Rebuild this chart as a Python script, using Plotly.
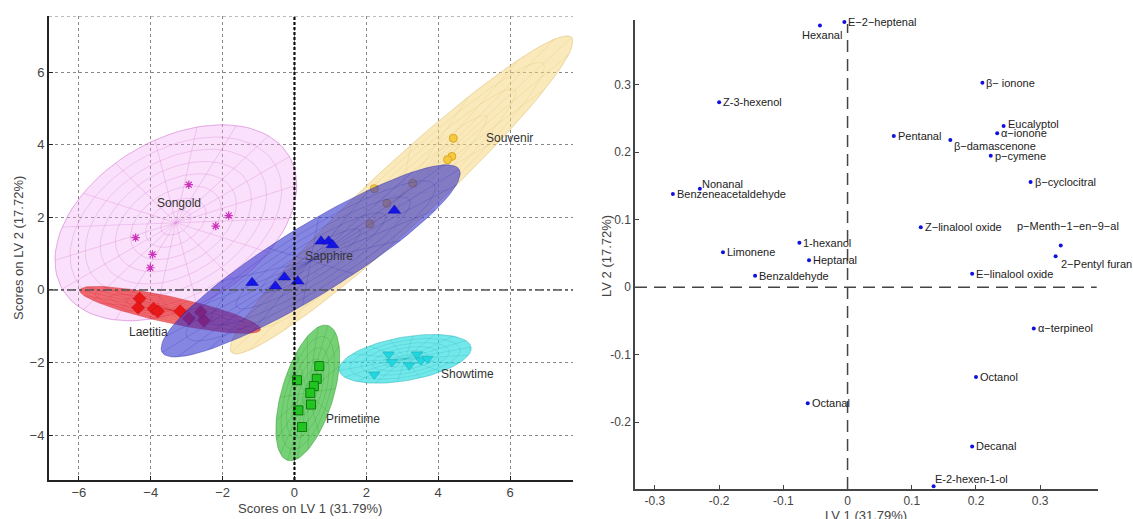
import numpy as np
import plotly.graph_objects as go

# ---------------- Scores (left panel) ----------------
groups = ["Songold", "Souvenir", "Laetitia", "Sapphire", "Primetime", "Showtime"]

songold_x = [-2.94, -1.83, -2.19, -4.42, -3.95, -4.01]
songold_y = [2.90, 2.05, 1.76, 1.44, 0.98, 0.61]
souvenir_x = [4.42, 4.38, 4.26, 2.22, 3.29, 2.57, 2.10]
souvenir_y = [4.18, 3.68, 3.59, 2.79, 2.94, 2.39, 1.82]
laetitia_x = [-4.31, -4.35, -3.92, -3.80, -3.18, -2.94, -2.61, -2.52]
laetitia_y = [-0.24, -0.49, -0.52, -0.59, -0.59, -0.79, -0.61, -0.84]
sapphire_x = [2.78, 0.74, 0.95, 1.06, -1.18, -0.53, -0.28, 0.09]
sapphire_y = [2.19, 1.34, 1.34, 1.24, 0.20, 0.10, 0.35, 0.24]
primetime_x = [0.69, 0.07, 0.62, 0.54, 0.44, 0.46, 0.11, 0.21]
primetime_y = [-2.10, -2.49, -2.45, -2.65, -2.84, -3.16, -3.32, -3.78]
showtime_x = [2.62, 2.71, 2.22, 3.19, 3.41, 3.52, 3.70]
showtime_y = [-1.78, -1.99, -2.33, -2.08, -1.78, -1.94, -1.90]

# confidence ellipses: centre x, centre y, semi-major, semi-minor, angle (deg)
ell_cx = [-3.30, 2.98, -3.46, 0.45, 0.37, 3.08]
ell_cy = [1.85, 2.62, -0.55, 0.80, -2.84, -1.90]
ell_a = [3.65, 6.42, 2.57, 4.84, 1.94, 1.86]
ell_b = [2.30, 0.85, 0.36, 0.95, 0.72, 0.60]
ell_ang = [30.0, 42.5, -12.2, 31.4, 73.2, 9.9]

label_x = [-3.2, 5.97, -4.07, 0.97, 1.62, 4.81]
label_y = [2.4, 4.2, -1.16, 0.93, -3.55, -2.33]

# ---------------- Loadings (right panel) ----------------
var_names = ["Hexanal", "E\u22122\u2212heptenal", "Z-3-hexenol", "Nonanal", "Benzeneacetaldehyde",
             "Limonene", "1-hexanol", "Heptanal", "Benzaldehyde", "Octanal",
             "\u03b2\u2212 ionone", "Eucalyptol", "\u03b1\u2212ionone", "Pentanal", "\u03b2\u2212damascenone",
             "p\u2212cymene", "\u03b2\u2212cyclocitral", "Z\u2212linalool oxide", "p\u2212Menth\u22121\u2212en\u22129\u2212al",
             "2\u2212Pentyl furan", "E\u2212linalool oxide", "\u03b1\u2212terpineol", "Octanol", "Decanal",
             "E-2-hexen-1-ol"]
lv1 = [-0.043, -0.005, -0.200, -0.230, -0.272,
       -0.194, -0.075, -0.060, -0.144, -0.062,
       0.210, 0.243, 0.233, 0.072, 0.160,
       0.223, 0.285, 0.114, 0.332,
       0.324, 0.194, 0.290, 0.200, 0.194,
       0.134]
lv2 = [0.388, 0.393, 0.274, 0.146, 0.138,
       0.052, 0.066, 0.040, 0.017, -0.172,
       0.303, 0.239, 0.228, 0.224, 0.218,
       0.195, 0.156, 0.089, 0.062,
       0.046, 0.020, -0.061, -0.133, -0.236,
       -0.295]
# label placement: (xanchor, yanchor, xshift, yshift)
lab_pos = {0: ("center", "top", 2, -2), 3: ("left", "bottom", 0, -3),
           14: ("left", "top", 2, 2), 18: ("center", "middle", 7, 19),
           19: ("left", "middle", 3, -8), 24: ("left", "middle", -1, 7),
           11: ("left", "middle", 2, 2)}

style = {
    "Songold": dict(fill="rgba(240,160,240,0.33)", mesh="rgba(215,130,215,0.55)",
                    marker=dict(symbol="asterisk-open", size=7, color="#cc33bb",
                                line=dict(color="#cc33bb", width=1.2))),
    "Souvenir": dict(fill="rgba(245,212,120,0.50)", mesh="rgba(225,190,110,0.45)",
                     marker=dict(symbol="circle", size=8, color="#f6c940",
                                 line=dict(color="#d9a820", width=1))),
    "Laetitia": dict(fill="rgba(235,40,40,0.65)", mesh="rgba(200,40,40,0.35)",
                     marker=dict(symbol="diamond", size=10, color="#e81818",
                                 line=dict(color="#c01010", width=0.5))),
    "Sapphire": dict(fill="rgba(45,45,205,0.58)", mesh="rgba(30,30,160,0.30)",
                     marker=dict(symbol="triangle-up", size=11, color="#1414e6",
                                 line=dict(color="#0a0ab0", width=0.5))),
    "Primetime": dict(fill="rgba(60,190,60,0.70)", mesh="rgba(30,140,30,0.35)",
                      marker=dict(symbol="square", size=9, color="#22c422",
                                  line=dict(color="#0e7d0e", width=1))),
    "Showtime": dict(fill="rgba(40,220,225,0.65)", mesh="rgba(20,170,175,0.35)",
                     marker=dict(symbol="triangle-down", size=10, color="#22d6e0",
                                 line=dict(color="#12a8b0", width=0.5))),
}
pts = {"Songold": (songold_x, songold_y), "Souvenir": (souvenir_x, souvenir_y),
       "Laetitia": (laetitia_x, laetitia_y), "Sapphire": (sapphire_x, sapphire_y),
       "Primetime": (primetime_x, primetime_y), "Showtime": (showtime_x, showtime_y)}


def ellipse_xy(cx, cy, a, b, ang, s=1.0, n=90):
    t = np.linspace(0, 2 * np.pi, n)
    th = np.radians(ang)
    x = cx + s * (a * np.cos(t) * np.cos(th) - b * np.sin(t) * np.sin(th))
    y = cy + s * (a * np.cos(t) * np.sin(th) + b * np.sin(t) * np.cos(th))
    return x, y


def mesh_xy(cx, cy, a, b, ang, rings=7, spokes=18):
    xs, ys = [], []
    for k in range(1, rings + 1):
        x, y = ellipse_xy(cx, cy, a, b, ang, s=k / rings)
        xs += list(x) + [None]
        ys += list(y) + [None]
    th = np.radians(ang)
    for t in np.linspace(0, 2 * np.pi, spokes, endpoint=False):
        ex = cx + a * np.cos(t) * np.cos(th) - b * np.sin(t) * np.sin(th)
        ey = cy + a * np.cos(t) * np.sin(th) + b * np.sin(t) * np.cos(th)
        xs += [cx, ex, None]
        ys += [cy, ey, None]
    return xs, ys


fig = go.Figure()
for i, g in enumerate(groups):
    st = style[g]
    ex, ey = ellipse_xy(ell_cx[i], ell_cy[i], ell_a[i], ell_b[i], ell_ang[i])
    fig.add_trace(go.Scatter(x=ex, y=ey, fill="toself", fillcolor=st["fill"], mode="lines",
                             line=dict(color=st["mesh"], width=0.8), hoverinfo="skip",
                             showlegend=False, xaxis="x", yaxis="y"))
    mx, my = mesh_xy(ell_cx[i], ell_cy[i], ell_a[i], ell_b[i], ell_ang[i],
                     rings=8 if g == "Songold" else 6, spokes=18)
    fig.add_trace(go.Scatter(x=mx, y=my, mode="lines", line=dict(color=st["mesh"], width=0.6),
                             hoverinfo="skip", showlegend=False, xaxis="x", yaxis="y"))
    px, py = pts[g]
    fig.add_trace(go.Scatter(x=px, y=py, mode="markers", marker=st["marker"], name=g,
                             showlegend=False, xaxis="x", yaxis="y"))

# group labels
for i, g in enumerate(groups):
    fig.add_annotation(x=label_x[i], y=label_y[i], xref="x", yref="y", text=g, showarrow=False,
                       xanchor="center", yanchor="middle",
                       font=dict(family="Liberation Sans, Arial", size=12, color="#333"))

# left panel reference lines
X1 = [-6.83, 7.75]
Y1 = [-5.24, 7.55]
fig.add_shape(type="line", xref="x", yref="y", x0=X1[0], x1=X1[1], y0=0, y1=0,
              line=dict(color="#555", width=1.5, dash="dashdot"))
fig.add_shape(type="line", xref="x", yref="y", x0=0, x1=0, y0=Y1[0], y1=Y1[1],
              line=dict(color="#111", width=2.2, dash="3px,2px"))
fig.add_shape(type="line", xref="x", yref="y", x0=X1[0], x1=X1[1], y0=Y1[1], y1=Y1[1],
              line=dict(color="#777", width=1, dash="dot"))

# loadings
fig.add_trace(go.Scatter(x=lv1, y=lv2, mode="markers", marker=dict(color="#1010e0", size=4),
                         showlegend=False, xaxis="x2", yaxis="y2", text=var_names))
for i, name in enumerate(var_names):
    xa, ya, xs, ys = lab_pos.get(i, ("left", "middle", 2, 0))
    fig.add_annotation(x=lv1[i], y=lv2[i], xref="x2", yref="y2", text=name, showarrow=False,
                       xanchor=xa, yanchor=ya, xshift=xs, yshift=ys,
                       font=dict(family="Liberation Sans, Arial", size=11, color="#222"))

X2 = [-0.331, 0.390]
Y2 = [-0.299, 0.396]
fig.add_shape(type="line", xref="x2", yref="y2", x0=X2[0], x1=0.388, y0=0, y1=0,
              line=dict(color="#444", width=1.5, dash="12px,7px"))
fig.add_shape(type="line", xref="x2", yref="y2", x0=0, x1=0, y0=Y2[0], y1=0.39,
              line=dict(color="#444", width=1.5, dash="12px,7px"))

tickfont = dict(family="Liberation Sans, Arial", size=13, color="#444")
fig.update_layout(
    width=1133, height=519, margin=dict(l=0, r=0, t=0, b=0),
    paper_bgcolor="white", plot_bgcolor="white",
    xaxis=dict(domain=[49 / 1133, 573 / 1133], range=X1, tickvals=[-6, -4, -2, 0, 2, 4, 6],
               showgrid=True, gridcolor="#888", griddash="dot", gridwidth=1, zeroline=False,
               showline=True, linecolor="#222", linewidth=1.5, ticks="inside", ticklen=4,
               tickcolor="#222", tickfont=tickfont, anchor="y"),
    yaxis=dict(domain=[39 / 519, 503 / 519], range=Y1, tickvals=[-4, -2, 0, 2, 4, 6],
               showgrid=True, gridcolor="#888", griddash="dot", gridwidth=1, zeroline=False,
               showline=True, linecolor="#222", linewidth=2, ticks="inside", ticklen=4,
               tickcolor="#222", tickfont=tickfont, anchor="x"),
    xaxis2=dict(domain=[635 / 1133, 1098 / 1133], range=X2, tickvals=[-0.3, -0.2, -0.1, 0, 0.1, 0.2, 0.3],
                ticktext=["-0.3", "-0.2", "-0.1", "0", "0.1", "0.2", "0.3"],
                showgrid=False, zeroline=False, showline=True, linecolor="#444", linewidth=1.5,
                ticks="inside", ticklen=4, tickcolor="#444",
                tickfont=dict(family="Liberation Sans, Arial", size=12, color="#444"), anchor="y2"),
    yaxis2=dict(domain=[30 / 519, 499 / 519], range=Y2, tickvals=[-0.2, -0.1, 0, 0.1, 0.2, 0.3],
                ticktext=["-0.2", "-0.1", "0", "0.1", "0.2", "0.3"],
                showgrid=False, zeroline=False, showline=True, linecolor="#444", linewidth=1.5,
                ticks="inside", ticklen=4, tickcolor="#444",
                tickfont=dict(family="Liberation Sans, Arial", size=12, color="#444"), anchor="x2"),
)

title_font = dict(family="Liberation Sans, Arial", size=13, color="#444")
titles = [("Scores on LV 1 (31.79%)", 310, 508, 0), ("Scores on LV 2 (17.72%)", 18, 248, -90),
          ("LV 1 (31.79%)", 866, 515, 0), ("LV 2 (17.72%)", 606, 256, -90)]
for txt, tx, ty, ang in titles:
    fig.add_annotation(x=tx / 1133, y=1 - ty / 519, xref="paper", yref="paper", showarrow=False,
                       xanchor="center", yanchor="middle", text=txt, textangle=ang, font=title_font)

fig.write_html("out.html", config={"displayModeBar": False},
               post_script="document.body.style.margin='0px';document.body.style.overflow='hidden';")
